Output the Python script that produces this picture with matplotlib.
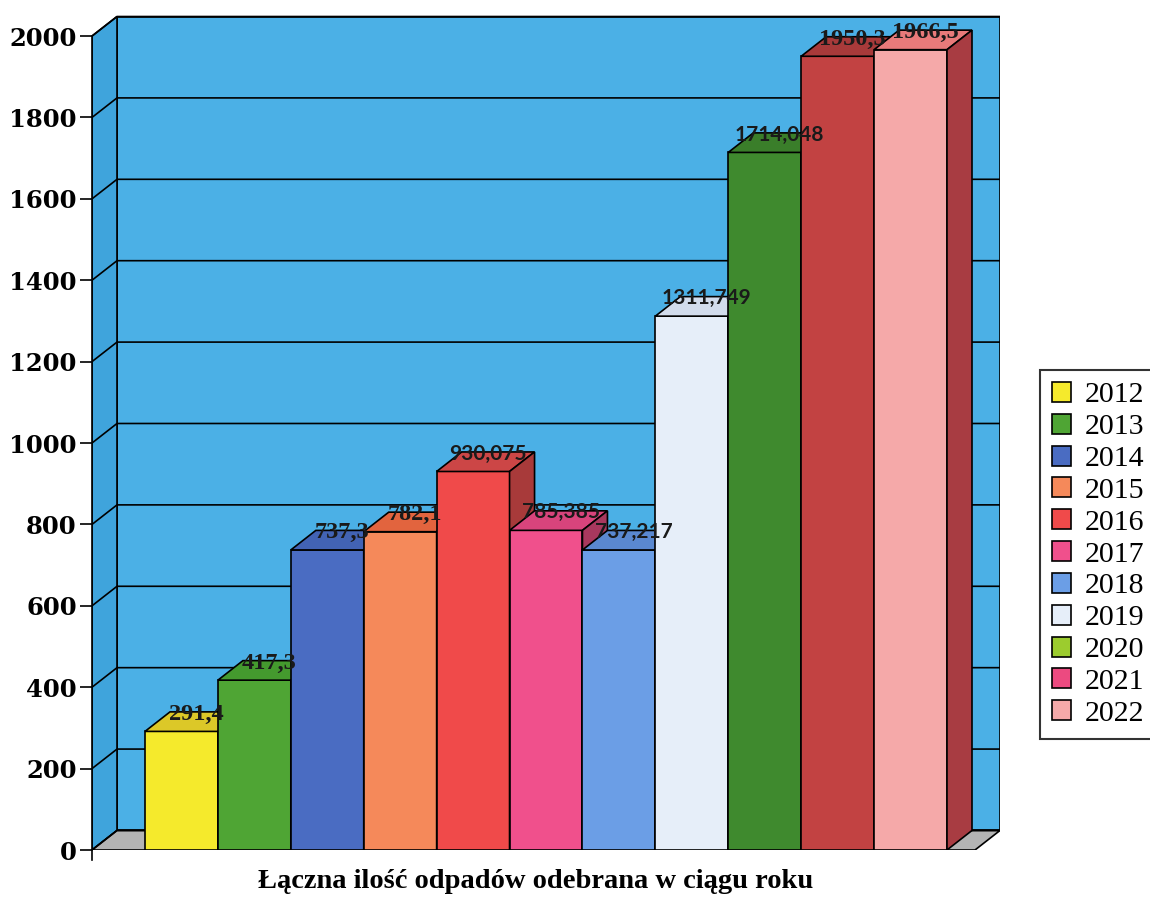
#!/usr/bin/env python3
# Pseudo-3D bar chart: total waste collected per year

import matplotlib.pyplot as plt
from matplotlib.patches import Polygon, Patch

years = ["2012", "2013", "2014", "2015", "2016", "2017",
         "2018", "2019", "2020", "2021", "2022"]
values = [291.4, 417.3, 737.3, 782.1, 930.075, 785.385,
          737.217, 1311.749, 1714.048, 1950.3, 1966.5]
value_labels = ["291,4", "417,3", "737,3", "782,1", "930,075", "785,385",
                "737,217", "1311,749", "1714,048", "1950,3", "1966,5"]
yticks = [0, 200, 400, 600, 800, 1000, 1200, 1400, 1600, 1800, 2000]
title = "Łączna ilość odpadów odebrana w ciągu roku"

bar_colors = ["#f5ea2c", "#4fa534", "#4a6cc2", "#f5895a", "#f04a4a", "#f0508c",
              "#6b9ee6", "#e6eef9", "#3f8a2e", "#c24242", "#f5a9a9"]
top_colors = ["#dcc828", "#449a2e", "#4263b4", "#e2643e", "#cc4646", "#d8447c",
              "#5a88d0", "#d2dcec", "#3a7e2a", "#a83a3a", "#e87a7a"]
side_colors = ["#b0a020", "#367424", "#32498c", "#b05a3c", "#a83a3a", "#a8385e",
               "#4a6ca0", "#a8b0c0", "#2c5e20", "#8a2e2e", "#a83c42"]
legend_colors = ["#f5ea2c", "#4fa534", "#4a6cc2", "#f5895a", "#f04a4a", "#f0508c",
                 "#6b9ee6", "#e6eef9", "#9ccc2e", "#ec4a80", "#f5a9a9"]
label_serif = [True, True, True, True, False, False,
               False, False, False, True, True]

wall = "#4bb0e6"
side_wall = "#3fa4dc"
floor = "#b4b4b4"


def main():
    fig = plt.figure(figsize=(11.5, 9.01), dpi=100)
    ax = fig.add_axes([92 / 1150, 51 / 901, 908 / 1150, 840 / 901])

    x0 = -0.5 - 53 / 72.9      # front left of the plot box
    xr = 10.5 + 28 / 72.9      # front right
    dx, dy = 0.343, 48         # depth offset
    ax.set_xlim(x0, xr + dx)
    ax.set_ylim(0, 2064)

    # walls and floor
    ax.add_patch(Polygon([(x0 + dx, dy), (xr + dx, dy), (xr + dx, 2000 + dy), (x0 + dx, 2000 + dy)],
                         facecolor=wall, edgecolor="black", lw=1.2, zorder=0))
    ax.add_patch(Polygon([(x0, 0), (x0 + dx, dy), (x0 + dx, 2000 + dy), (x0, 2000)],
                         facecolor=side_wall, edgecolor="black", lw=1.2, zorder=0))
    ax.add_patch(Polygon([(x0, 0), (xr, 0), (xr + dx, dy), (x0 + dx, dy)],
                         facecolor=floor, edgecolor="black", lw=1.2, zorder=0))
    for v in yticks:
        ax.plot([x0, x0 + dx, xr + dx], [v, v + dy, v + dy], color="black", lw=1.2, zorder=0.5)

    # bars
    for i, v in enumerate(values):
        z = 2 + i
        ax.bar(i, v, width=1, color=bar_colors[i], edgecolor="black", lw=1.2, zorder=z)
        l, r = i - 0.5, i + 0.5
        ax.add_patch(Polygon([(l, v), (r, v), (r + dx, v + dy), (l + dx, v + dy)],
                             facecolor=top_colors[i], edgecolor="black", lw=1.2, zorder=z))
        ax.add_patch(Polygon([(r, 0), (r + dx, dy), (r + dx, v + dy), (r, v)],
                             facecolor=side_colors[i], edgecolor="black", lw=1.2, zorder=z))

    for i, (v, t) in enumerate(zip(values, value_labels)):
        if label_serif[i]:
            ax.text(i + 0.2, v + 42, t, ha="center", va="center", fontsize=17.5,
                    fontweight="bold", family="Liberation Serif", color="#1a1a1a", zorder=30)
        else:
            ax.text(i + 0.2, v + 44, t, ha="center", va="center", fontsize=15,
                    fontweight="bold", family="Lato", color="#1a1a1a", zorder=30)

    # axes
    ax.set_facecolor("none")
    for s in ["top", "right", "bottom"]:
        ax.spines[s].set_visible(False)
    ax.spines["left"].set_position(("data", x0))
    ax.spines["left"].set_bounds(0, 2000)
    ax.spines["left"].set_linewidth(1.2)
    ax.set_yticks(yticks)
    ax.set_yticklabels([str(t) for t in yticks], family="DejaVu Serif",
                       fontweight="bold", fontsize=17.5)
    ax.tick_params(axis="y", direction="out", length=9, width=1.2, pad=2)
    ax.set_xticks([])
    ax.plot([x0, x0], [0, -25], color="black", lw=1.2, clip_on=False)

    handles = [Patch(facecolor=c, edgecolor="black", lw=1.2) for c in legend_colors]
    leg = fig.legend(handles, years, loc="upper left", bbox_to_anchor=(1040 / 1150, 1 - 370 / 901),
                     prop={"family": "Liberation Serif", "size": 21.5}, frameon=True, fancybox=False,
                     handlelength=0.65, handleheight=0.65, handletextpad=0.45, labelspacing=0.18,
                     borderpad=0.4, borderaxespad=0)
    leg.get_frame().set_edgecolor("black")
    leg.get_frame().set_linewidth(1.5)

    fig.text(536 / 1150, 1 - 882 / 901, title, ha="center", va="center", fontsize=20.5,
             fontweight="bold", family="Liberation Serif")

    fig.savefig("out.png", dpi=100)


if __name__ == "__main__":
    main()
